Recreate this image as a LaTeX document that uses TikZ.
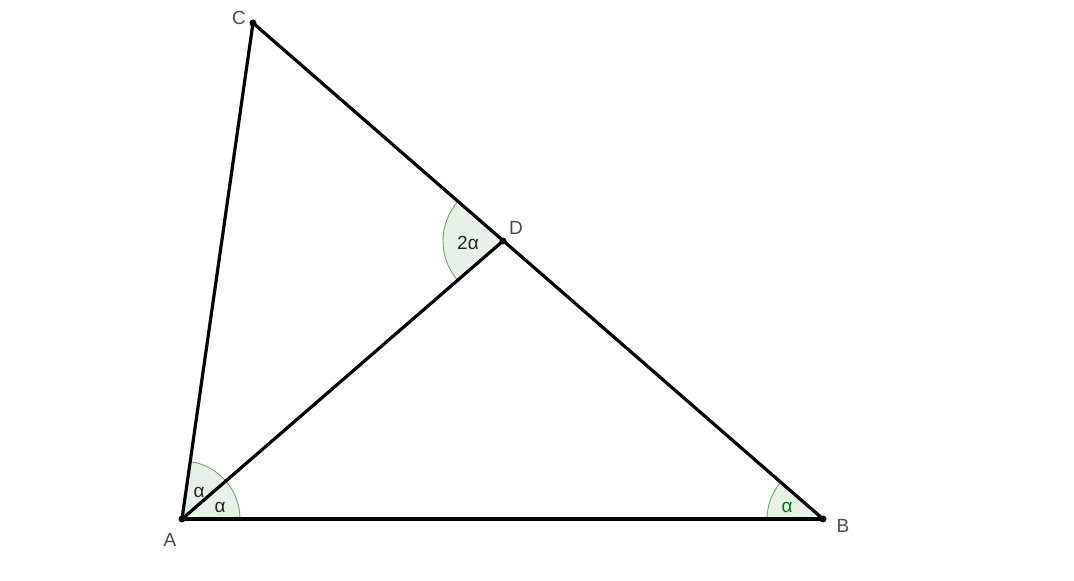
\documentclass[tikz,border=0pt]{standalone}
\usepackage{fontspec}
\setmainfont{Liberation Sans}
\begin{document}
\begin{tikzpicture}[x=1pt,y=1pt,
  seg/.style={line width=3.2pt, black},
  angfill/.style={fill=green!40!black!9!white},
  angarc/.style={draw=green!45!black!60!white, line width=0.9pt},
  ptlabel/.style={text=black!70, font=\fontsize{19}{21}\selectfont, inner sep=0pt},
  anglabel/.style={text=black!85, font=\fontsize{19}{21}\selectfont, inner sep=0pt},
  dot/.style={circle, fill=black, inner sep=0pt, minimum size=7pt}]
\useasboundingbox (0,0) rectangle (1074,581);
\coordinate (A) at (182,62);
\coordinate (B) at (823,62);
\coordinate (C) at (253,558);
\coordinate (D) at (503,340);
% angle sectors
\fill[angfill] (A) -- ++(0:58) arc[start angle=0,end angle=81.85,radius=58] -- cycle;
\draw[angarc] (A) ++(0:58) arc[start angle=0,end angle=81.85,radius=58];
\fill[angfill] (B) -- ++(139.03:56) arc[start angle=139.03,end angle=180,radius=56] -- cycle;
\draw[angarc] (B) ++(139.03:56) arc[start angle=139.03,end angle=180,radius=56];
\fill[angfill] (D) -- ++(138.9:60) arc[start angle=138.9,end angle=220.9,radius=60] -- cycle;
\draw[angarc] (D) ++(138.9:60) arc[start angle=138.9,end angle=220.9,radius=60];
% segments
\draw[seg] (A) -- (B);
\draw[seg] (B) -- (C);
\draw[seg] (C) -- (A);
\draw[seg] (A) -- (D);
% points
\node[dot] (pA) at (A) {};
\node[dot] (pB) at (B) {};
\node[dot] (pC) at (C) {};
\node[dot] (pD) at (D) {};
% labels
\node[ptlabel] (lA) at (170,41) {A};
\node[ptlabel] (lB) at (843,55) {B};
\node[ptlabel] (lC) at (239,563) {C};
\node[ptlabel] (lD) at (516,353) {D};
\node[anglabel] (a1) at (199,89) {α};
\node[anglabel] (a2) at (220,74) {α};
\node[anglabel, text=green!50!black] (a3) at (787,74) {α};
\node[anglabel] (a4) at (468,338) {2α};
\end{tikzpicture}
\end{document}
